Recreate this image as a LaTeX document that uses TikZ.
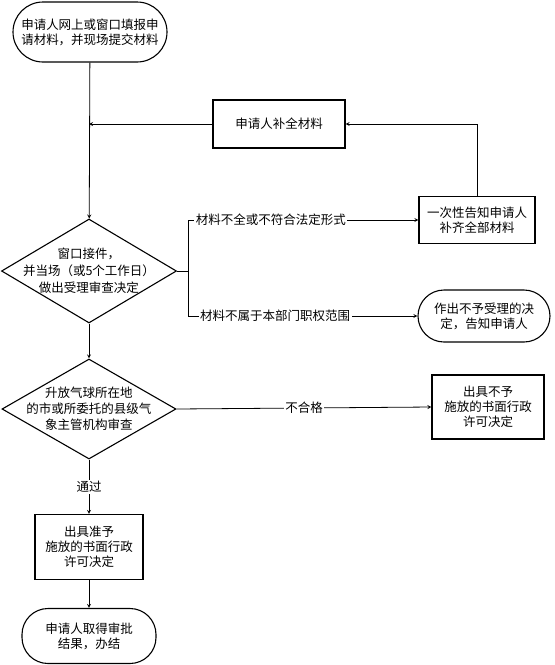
\documentclass[tikz,border=0pt]{standalone}
\usepackage{fontspec}
\setmainfont{Noto Sans CJK SC}
\usetikzlibrary{shapes.geometric}
\begin{document}
\begin{tikzpicture}[x=1pt, y=-1pt, >=stealth, line width=0.8pt,
  font=\fontsize{12.5}{15}\selectfont,
  box/.style={draw, line width=1.1pt, align=center, inner sep=0pt},
  term/.style={box, rounded corners=26pt},
  dia/.style={draw, diamond, line width=1.1pt, inner sep=0pt},
  lab/.style={fill=white, inner sep=1.5pt}]
  \useasboundingbox (0,0) rectangle (555,665);
  \node[term, rounded corners=30pt, minimum width=154pt, minimum height=60pt] (start) at (90,32)
    {申请人网上或窗口填报申\\请材料，并现场提交材料};
  \node[box, minimum width=132pt, minimum height=48pt] (supp) at (279,124) {申请人补全材料};
  \node[box, minimum width=116pt, minimum height=47pt] (notify) at (477,220)
    {一次性告知申请人\\补齐全部材料};
  \node[term, minimum width=132pt, minimum height=52pt] (reject) at (484,316)
    {作出不予受理的决\\定，告知申请人};
  \node[dia, minimum width=175pt, minimum height=104pt] (d1) at (89,271) {};
  \node[align=center, font=\fontsize{12.5}{17}\selectfont] at (d1) {窗口接件，\\并当场（或5个工作日）\\做出受理审查决定};
  \node[dia, minimum width=174pt, minimum height=100pt] (d2) at (89,409) {};
  \node[align=center, font=\fontsize{12.5}{16}\selectfont] at (d2) {升放气球所在地\\的市或所委托的县级气\\象主管机构审查};
  \node[box, minimum width=112pt, minimum height=64pt] (deny) at (488,407)
    {出具不予\\施放的书面行政\\许可决定};
  \node[box, minimum width=108pt, minimum height=65pt] (grant) at (89,547)
    {出具准予\\施放的书面行政\\许可决定};
  \node[term, minimum width=134pt, minimum height=55pt] (finish) at (89,636)
    {申请人取得审批\\结果，办结};
  \coordinate (fork) at (188,271);
  % connectors
  \draw[->] (start) -- (d1);
  \draw[->] (supp.west) -- (supp.west -| d1);
  \draw[->] (notify.north) |- (supp.east);
  \draw (d1.east) -- (fork);
  \draw[->] (fork) |- node[lab, pos=0.68] {材料不全或不符合法定形式} (notify.west);
  \draw[->] (fork) |- node[lab, pos=0.69] {材料不属于本部门职权范围} (reject.west);
  \draw[->] (d1) -- (d2);
  \draw[->] (d2.east) -- node[lab] {不合格} (deny.west);
  \draw[->] (d2) -- node[lab] {通过} (grant);
  \draw[->] (grant) -- (finish);
\end{tikzpicture}
\end{document}
